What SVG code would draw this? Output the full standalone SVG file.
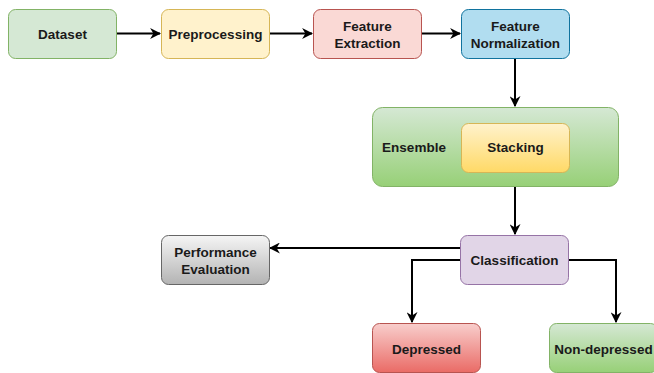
<svg xmlns="http://www.w3.org/2000/svg" width="654" height="373" viewBox="0 0 654 373">
<style>
text{font-family:"Liberation Sans",Arial,Helvetica,sans-serif;font-size:13.5px;font-weight:bold;fill:#1a1a1a;text-anchor:middle;dominant-baseline:central}
.c{fill:none;stroke:#000;stroke-width:2}
</style>
<defs>
<marker id="ah" viewBox="0 0 10 10" refX="9" refY="5" markerWidth="5.5" markerHeight="5.5" orient="auto" markerUnits="strokeWidth">
<path d="M0,0 L10,5 L0,10 L3,5 Z" fill="#000"/>
</marker>
<linearGradient id="gGreen" x1="0" y1="0" x2="0" y2="1"><stop offset="0" stop-color="#d5e8d4"/><stop offset="1" stop-color="#97d077"/></linearGradient>
<linearGradient id="gYellow" x1="0" y1="0" x2="0" y2="1"><stop offset="0" stop-color="#fff2cc"/><stop offset="1" stop-color="#ffd966"/></linearGradient>
<linearGradient id="gGray" x1="0" y1="0" x2="0" y2="1"><stop offset="0" stop-color="#f5f5f5"/><stop offset="1" stop-color="#b3b3b3"/></linearGradient>
<linearGradient id="gRed" x1="0" y1="0" x2="0" y2="1"><stop offset="0" stop-color="#f8cecc"/><stop offset="1" stop-color="#ea6b66"/></linearGradient>
</defs>
<g id="connectors">
<path class="c" d="M117,33.5 H160" marker-end="url(#ah)"/>
<path class="c" d="M269,33.5 H312" marker-end="url(#ah)"/>
<path class="c" d="M422,33.5 H460" marker-end="url(#ah)"/>
<path class="c" d="M515,58 V106" marker-end="url(#ah)"/>
<path class="c" d="M515,172 V234" marker-end="url(#ah)"/>
<path class="c" d="M460,248 H270" marker-end="url(#ah)"/>
<path class="c" d="M460,260 H412 V322" marker-end="url(#ah)"/>
<path class="c" d="M569,260 H616 V322" marker-end="url(#ah)"/>
</g>
<g id="dataset"><rect x="8.5" y="9.5" width="108" height="49" rx="7" fill="#d5e8d4" stroke="#82b366"/><text x="62.5" y="34">Dataset</text></g>
<g id="preprocessing"><rect x="161.5" y="9.5" width="108" height="49" rx="7" fill="#fff2cc" stroke="#d6b656"/><text x="215.5" y="34">Preprocessing</text></g>
<g id="feature-extraction"><rect x="313.5" y="9.5" width="108" height="49" rx="7" fill="#fad9d5" stroke="#b85450"/><text x="367.5" y="26">Feature</text><text x="367.5" y="43">Extraction</text></g>
<g id="feature-normalization"><rect x="461.5" y="9.5" width="108" height="49" rx="7" fill="#b1ddf0" stroke="#10739e"/><text x="515.5" y="26">Feature</text><text x="515.5" y="43">Normalization</text></g>
<g id="ensemble"><rect x="372.5" y="107.5" width="246" height="79" rx="10" fill="url(#gGreen)" stroke="#82b366"/><text x="414" y="147">Ensemble</text></g>
<g id="stacking"><rect x="461.5" y="123.5" width="108" height="49" rx="7" fill="url(#gYellow)" stroke="#d6b656"/><text x="515.5" y="147">Stacking</text></g>
<g id="classification"><rect x="460.5" y="235.5" width="108" height="49" rx="7" fill="#e1d5e7" stroke="#9673a6"/><text x="514.5" y="260">Classification</text></g>
<g id="performance-evaluation"><rect x="161.5" y="235.5" width="108" height="49" rx="7" fill="url(#gGray)" stroke="#666666"/><text x="215.5" y="252">Performance</text><text x="215.5" y="269">Evaluation</text></g>
<g id="depressed"><rect x="372.5" y="323.5" width="108" height="49" rx="7" fill="url(#gRed)" stroke="#b85450"/><text x="426.5" y="349">Depressed</text></g>
<g id="non-depressed"><rect x="549.5" y="323.5" width="108" height="49" rx="7" fill="url(#gGreen)" stroke="#82b366"/><text x="603.5" y="349">Non-depressed</text></g>
</svg>
